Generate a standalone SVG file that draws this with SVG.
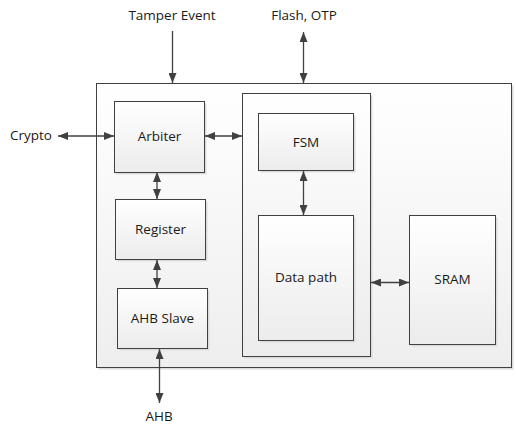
<svg xmlns="http://www.w3.org/2000/svg" width="516" height="432" viewBox="0 0 516 432">
<defs>
<linearGradient id="g" x1="0" y1="0" x2="0" y2="1">
<stop offset="0" stop-color="#ffffff"/>
<stop offset="1" stop-color="#ececec"/>
</linearGradient>
<linearGradient id="go" x1="0" y1="0" x2="0" y2="1">
<stop offset="0" stop-color="#ffffff"/>
<stop offset="1" stop-color="#eeeeee"/>
</linearGradient>
<marker id="ah" viewBox="0 0 10 8" refX="10" refY="4" markerWidth="10" markerHeight="8" markerUnits="userSpaceOnUse" orient="auto-start-reverse">
<path d="M0,0 L10,4 L0,8 z" fill="#404040"/>
</marker>
</defs>
<style>
.box{fill:url(#g);stroke:#404040;stroke-width:1}
.sh{fill:#dcdcdc}
.t{font-family:"Open Sans","Liberation Sans",sans-serif;font-size:13.5px;fill:#1a1a1a;text-anchor:middle}
.c{stroke:#404040;stroke-width:1.3;fill:none}
</style>
<rect width="516" height="432" fill="#ffffff"/>
<g id="outer">
<rect x="98.5" y="85.5" width="415" height="284" class="sh"/>
<rect x="96.5" y="83.5" width="415" height="284" fill="url(#go)" stroke="#404040"/>
</g>
<g id="arbiter">
<rect x="116.5" y="103.5" width="90" height="71" class="sh"/>
<rect x="114.5" y="101.5" width="90" height="71" class="box"/>
<text x="159.5" y="141" class="t">Arbiter</text>
</g>
<g id="register">
<rect x="117.5" y="201.5" width="90" height="60" class="sh"/>
<rect x="115.5" y="199.5" width="90" height="60" class="box"/>
<text x="160.5" y="234" class="t">Register</text>
</g>
<g id="ahbslave">
<rect x="119.5" y="290.5" width="90" height="60" class="sh"/>
<rect x="117.5" y="288.5" width="90" height="60" class="box"/>
<text x="162.5" y="323" class="t">AHB Slave</text>
</g>
<g id="inner">
<rect x="244.5" y="95.5" width="128" height="263" class="sh"/>
<rect x="242.5" y="93.5" width="128" height="263" class="box"/>
</g>
<g id="fsm">
<rect x="260.5" y="115.5" width="95" height="57" class="sh"/>
<rect x="258.5" y="113.5" width="95" height="57" class="box"/>
<text x="306" y="147" class="t">FSM</text>
</g>
<g id="datapath">
<rect x="260.5" y="217.5" width="95" height="125" class="sh"/>
<rect x="258.5" y="215.5" width="95" height="125" class="box"/>
<text x="306" y="282" class="t">Data path</text>
</g>
<g id="sram">
<rect x="411.5" y="217.5" width="86" height="129" class="sh"/>
<rect x="409.5" y="215.5" width="86" height="129" class="box"/>
<text x="452.5" y="284" class="t">SRAM</text>
</g>
<g id="labels">
<text x="172" y="20" class="t">Tamper Event</text>
<text x="304" y="20" class="t">Flash, OTP</text>
<text x="31" y="140" class="t">Crypto</text>
<text x="159" y="421" class="t">AHB</text>
</g>
<g id="connectors">
<line x1="172.5" y1="31" x2="172.5" y2="83" class="c" marker-end="url(#ah)"/>
<line x1="303.5" y1="32" x2="303.5" y2="83" class="c" marker-start="url(#ah)" marker-end="url(#ah)"/>
<line x1="58" y1="136" x2="114" y2="136" class="c" marker-start="url(#ah)" marker-end="url(#ah)"/>
<line x1="205" y1="136" x2="242" y2="136" class="c" marker-start="url(#ah)" marker-end="url(#ah)"/>
<line x1="157" y1="172" x2="157" y2="199" class="c" marker-start="url(#ah)" marker-end="url(#ah)"/>
<line x1="157" y1="260" x2="157" y2="288" class="c" marker-start="url(#ah)" marker-end="url(#ah)"/>
<line x1="159.5" y1="349" x2="159.5" y2="403" class="c" marker-start="url(#ah)" marker-end="url(#ah)"/>
<line x1="303.5" y1="171" x2="303.5" y2="215" class="c" marker-start="url(#ah)" marker-end="url(#ah)"/>
<line x1="371" y1="282.5" x2="409" y2="282.5" class="c" marker-start="url(#ah)" marker-end="url(#ah)"/>
</g>
</svg>
